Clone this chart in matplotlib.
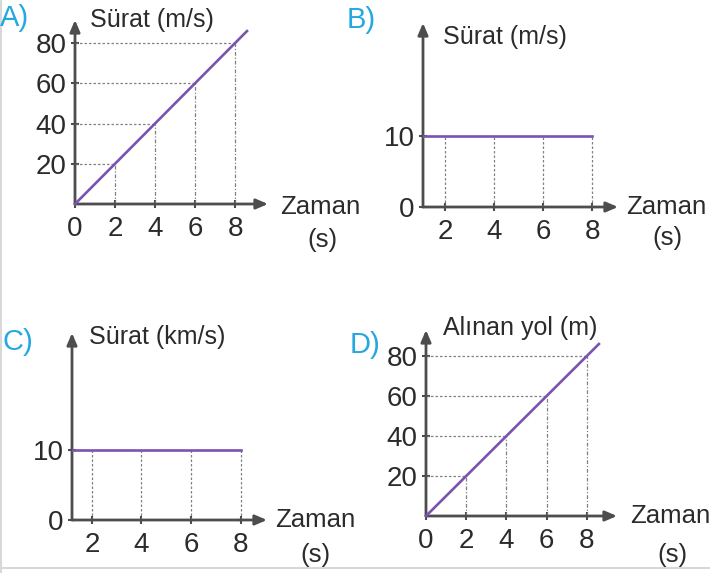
import matplotlib.pyplot as plt

plt.rcParams['font.family'] = ['Liberation Sans', 'DejaVu Sans']

# Veriler
a_t = [0, 2, 4, 6, 8, 8.6]
a_v = [0, 20, 40, 60, 80, 86]
b_t = [0, 2, 4, 6, 8]
b_v = [10, 10, 10, 10, 10]
c_t = [0, 2, 4, 6, 8]
c_v = [10, 10, 10, 10, 10]
d_t = [0, 2, 4, 6, 8, 8.6]
d_x = [0, 20, 40, 60, 80, 86]

harfler = ['A)', 'B)', 'C)', 'D)']
y_etiketleri = ['Sürat (m/s)', 'Sürat (m/s)', 'Sürat (km/s)', 'Alınan yol (m)']

W, H = 710, 573
MOR = '#7b52b0'
EKSEN = '#4d4d4d'
YAZI = '#2b2b2b'
MAVI = '#25a8e0'
KESIK = '#808080'

fig = plt.figure(figsize=(W / 100, H / 100), dpi=100)


def px(x, y):
    return x / W, 1 - y / H


def eksen_ekle(sol, alt, gen, yuk, xlim, ylim):
    ax = fig.add_axes([sol / W, 1 - alt / H, gen / W, yuk / H])
    ax.set_xlim(*xlim)
    ax.set_ylim(*ylim)
    for s in ax.spines.values():
        s.set_visible(False)
    ok = dict(arrowstyle='-|>,head_length=0.7,head_width=0.3', color=EKSEN, lw=2,
              shrinkA=0, shrinkB=0)
    ax.annotate('', xy=(1, 0), xytext=(0, 0), xycoords='axes fraction', arrowprops=ok,
                annotation_clip=False)
    ax.annotate('', xy=(0, 1), xytext=(0, 0), xycoords='axes fraction', arrowprops=ok,
                annotation_clip=False)
    ax.tick_params(direction='inout', length=6, width=1.5, color=EKSEN,
                   labelsize=20, labelcolor=YAZI, pad=3)
    ax.tick_params(axis='x', pad=5.5)
    ax.patch.set_alpha(0)
    return ax


# A) sürat - zaman, doğrusal
ax = eksen_ekle(75, 204, 193, 184, (0, 9.65), (0, 91.5))
ax.hlines(a_v[1:5], 0, a_t[1:5], colors=KESIK, linestyles=(0, (2, 1.6)), lw=0.9)
ax.vlines(a_t[1:5], 0, a_v[1:5], colors=KESIK, linestyles=(0, (3, 1.5, 1, 1.5)), lw=0.9)
ax.plot(a_t, a_v, color=MOR, lw=1.9, clip_on=False, zorder=3)
ax.set_xticks(a_t[:5])
ax.set_yticks(a_v[1:5])

# B) sabit sürat
ax = eksen_ekle(423, 207, 195, 184, (1.1, 9.06), (0, 26))
ax.vlines(b_t[1:], 0, b_v[1:], colors=KESIK, linestyles=(0, (2, 1.6)), lw=0.9)
ax.plot(b_t, b_v, color=MOR, lw=1.9, zorder=3)
ax.set_xticks(b_t[1:])
ax.set_yticks([0, b_v[0]])

# C) sabit sürat (km/s)
ax = eksen_ekle(72, 520, 195, 187, (1.2, 9.06), (0, 26.7))
ax.vlines(c_t[1:], 0, c_v[1:], colors=KESIK, linestyles=(0, (2, 1.6)), lw=0.9)
ax.plot(c_t, c_v, color=MOR, lw=1.9, zorder=3)
ax.set_xticks(c_t[1:])
ax.set_yticks([0, c_v[0]])

# D) alınan yol - zaman
ax = eksen_ekle(426, 516, 191, 186, (0, 9.5), (0, 93))
ax.hlines(d_x[1:5], 0, d_t[1:5], colors=KESIK, linestyles=(0, (2, 1.6)), lw=0.9)
ax.vlines(d_t[1:5], 0, d_x[1:5], colors=KESIK, linestyles=(0, (3, 1.5, 1, 1.5)), lw=0.9)
ax.plot(d_t, d_x, color=MOR, lw=1.9, clip_on=False, zorder=3)
ax.set_xticks(d_t[:5])
ax.set_yticks(d_x[1:5])

# Yazılar
harf_yer = [(0, 18), (347, 20), (2, 342), (350, 345)]
ylab_yer = [(90, 20), (443, 37), (89, 337), (443, 328)]
zaman_yer = [(280, 207), (626, 207), (275, 520), (630, 516)]
s_yer = [(322, 240), (667, 238), (315, 555), (672, 555)]

for i in range(4):
    fig.text(*px(*harf_yer[i]), harfler[i], color=MAVI, fontsize=21, ha='left', va='center')
    fig.text(*px(*ylab_yer[i]), y_etiketleri[i], color=YAZI, fontsize=18, ha='left', va='center')
    fig.text(*px(*zaman_yer[i]), 'Zaman', color=YAZI, fontsize=18.5, ha='left', va='center')
    fig.text(*px(*s_yer[i]), '(s)', color=YAZI, fontsize=18.5, ha='center', va='center')

# ince çerçeve
fig.add_artist(plt.Line2D([1 / W, 1 / W], [0, 1], color='#d8d8d8', lw=1.5))
fig.add_artist(plt.Line2D([0, 1], [1 - 568 / H, 1 - 568 / H], color='#d8d8d8', lw=1.5))

fig.savefig('out.png', dpi=100, facecolor='white')
